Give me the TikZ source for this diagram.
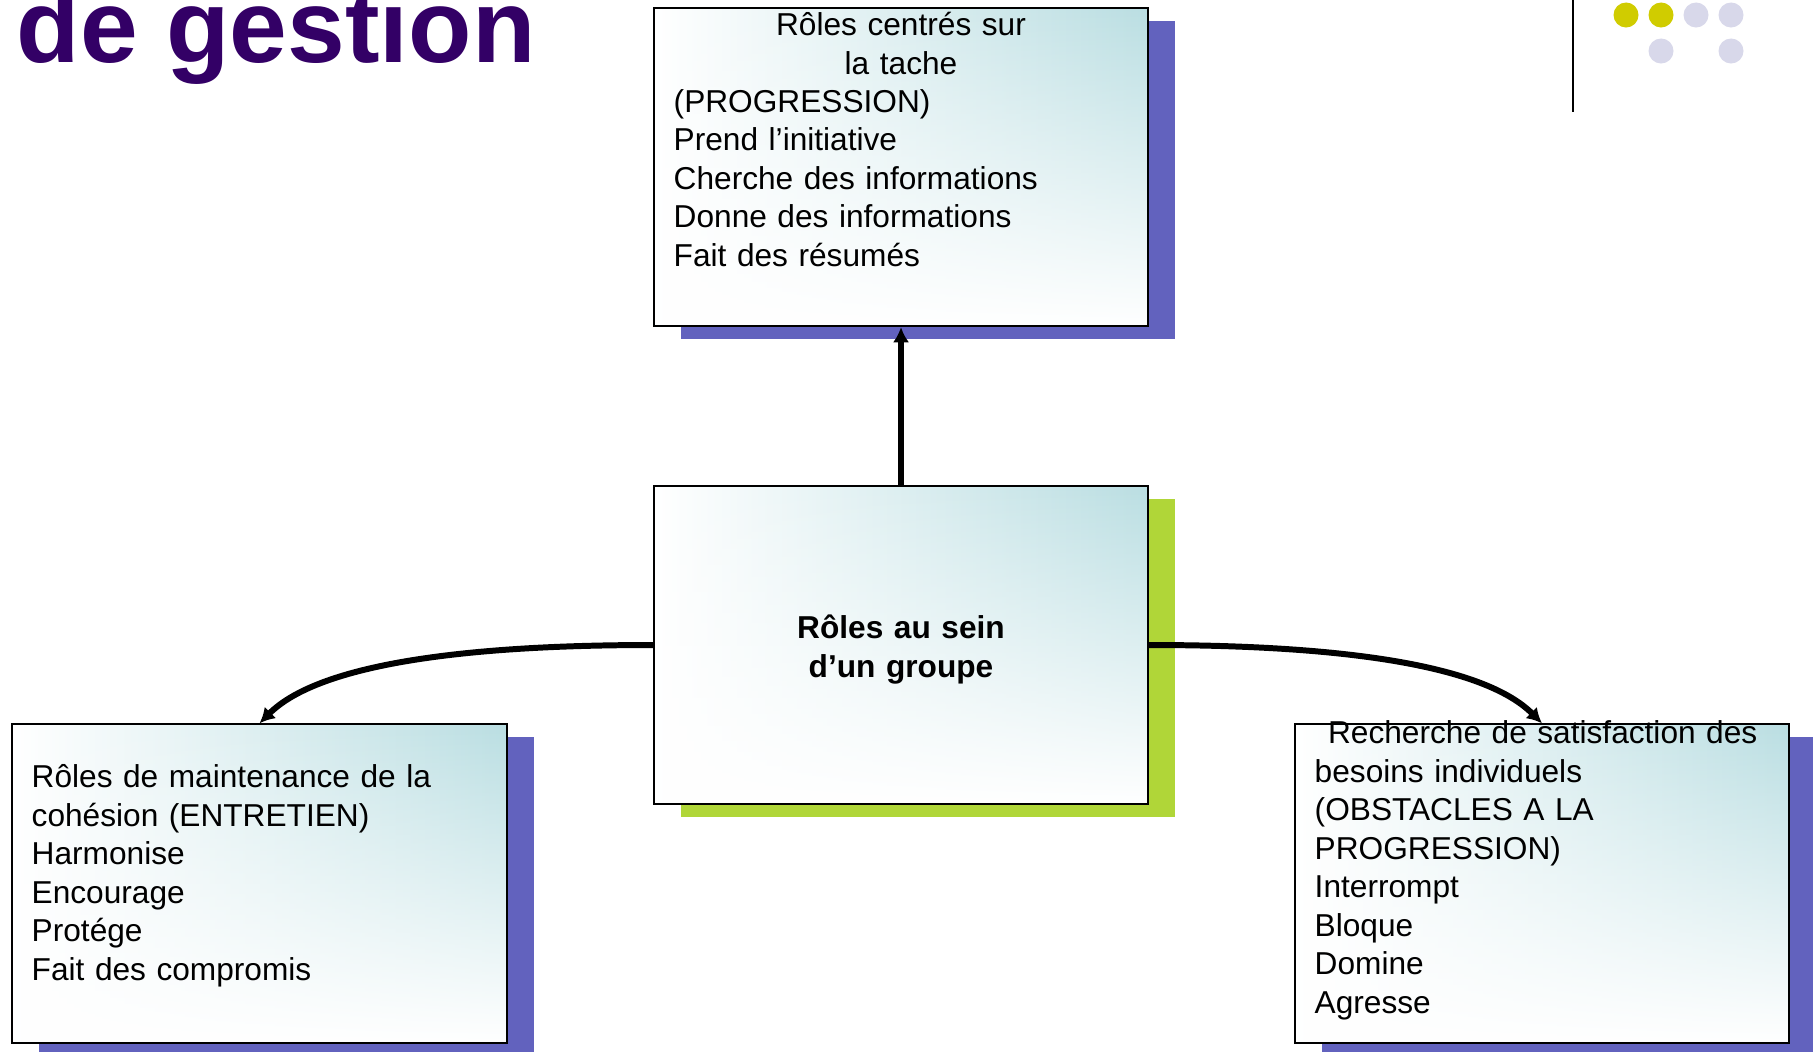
\documentclass[tikz,border=0pt]{standalone}
\usepackage{fontspec}
\setmainfont{Liberation Sans}
\usetikzlibrary{shadows,arrows.meta,fadings}

\definecolor{titlepurple}{RGB}{51,0,102}
\definecolor{boxteal}{RGB}{186,222,226}
\definecolor{shadowblue}{RGB}{98,98,190}
\definecolor{shadowgreen}{RGB}{176,214,56}
\definecolor{dotolive}{RGB}{208,204,0}
\definecolor{dotlilac}{RGB}{216,216,234}

\tikzset{
  card/.style={draw, line width=0.6pt, minimum width=4.94cm, minimum height=3.18cm,
    inner sep=0pt, preaction={fill=white},
    preaction={left color=white, right color=boxteal, path fading=south}},
  blueshadow/.style={drop shadow={shadow xshift=0.27cm, shadow yshift=-0.13cm,
    fill=shadowblue, opacity=1}},
  greenshadow/.style={drop shadow={shadow xshift=0.27cm, shadow yshift=-0.13cm,
    fill=shadowgreen, opacity=1}},
  list/.style={align=left, text width=4.6cm, inner sep=0pt,
    font=\fontsize{9}{10.95}\selectfont},
  link/.style={line width=1.7pt, -{Latex[length=4.3pt,width=4.6pt]}},
  dot/.style={circle, inner sep=0pt, minimum size=0.25cm},
}

\begin{document}
\begin{tikzpicture}[x=0.01cm,y=-0.01cm]
\useasboundingbox (0,0) rectangle (1813,1051);
\clip (0,0) rectangle (1813,1051);

% title and corner marks
\node[anchor=base west, inner sep=0pt, text=titlepurple,
  font=\bfseries\fontsize{29.5}{30}\selectfont] (title) at (16,62) {de gestion};
\draw[line width=0.6pt] (1573,0) -- (1573,112);
\node[dot, fill=dotolive] (d1) at (1626,15) {};
\node[dot, fill=dotolive] (d2) at (1661,15) {};
\node[dot, fill=dotlilac] (d3) at (1696,15) {};
\node[dot, fill=dotlilac] (d4) at (1731,15) {};
\node[dot, fill=dotlilac] (d5) at (1661,51) {};
\node[dot, fill=dotlilac] (d6) at (1731,51) {};

% boxes
\node[blueshadow, card] (task) at (901,167) {};
\node[greenshadow, card] (core) at (901,645) {};
\node[blueshadow, card] (maint) at (259.5,883.5) {};
\node[blueshadow, card] (needs) at (1542,883.5) {};

% box texts
\node[list, align=center, anchor=base] (tasktitle) at (901,35.5) {Rôles centrés sur\\la tache};
\node[list, anchor=base west] (tasklist) at (673,112) {(PROGRESSION)\\Prend l’initiative\\Cherche des informations\\Donne des informations\\Fait des résumés};
\node[list, align=center, anchor=base, font=\bfseries\fontsize{9}{10.95}\selectfont] (coretxt) at (901,638.5) {Rôles au sein\\d’un groupe};
\node[list, anchor=base west] (mainttxt) at (31,787.5) {Rôles de maintenance de la\\cohésion (ENTRETIEN)\\Harmonise\\Encourage\\Protége\\Fait des compromis};
\node[list, anchor=base west] (needstxt) at (1314,743.5) {\hspace*{3.8pt}Recherche de satisfaction des\\besoins individuels\\(OBSTACLES A LA\\PROGRESSION)\\Interrompt\\Bloque\\Domine\\Agresse};

% links
\path[draw,link] (core) -- (task);
\path[draw,link] (core.west) .. controls +(-200,0) and +(57,-57) .. (maint.north);
\path[draw,link] (core.east) .. controls +(200,0) and +(-57,-57) .. (needs.north);
\end{tikzpicture}
\end{document}
